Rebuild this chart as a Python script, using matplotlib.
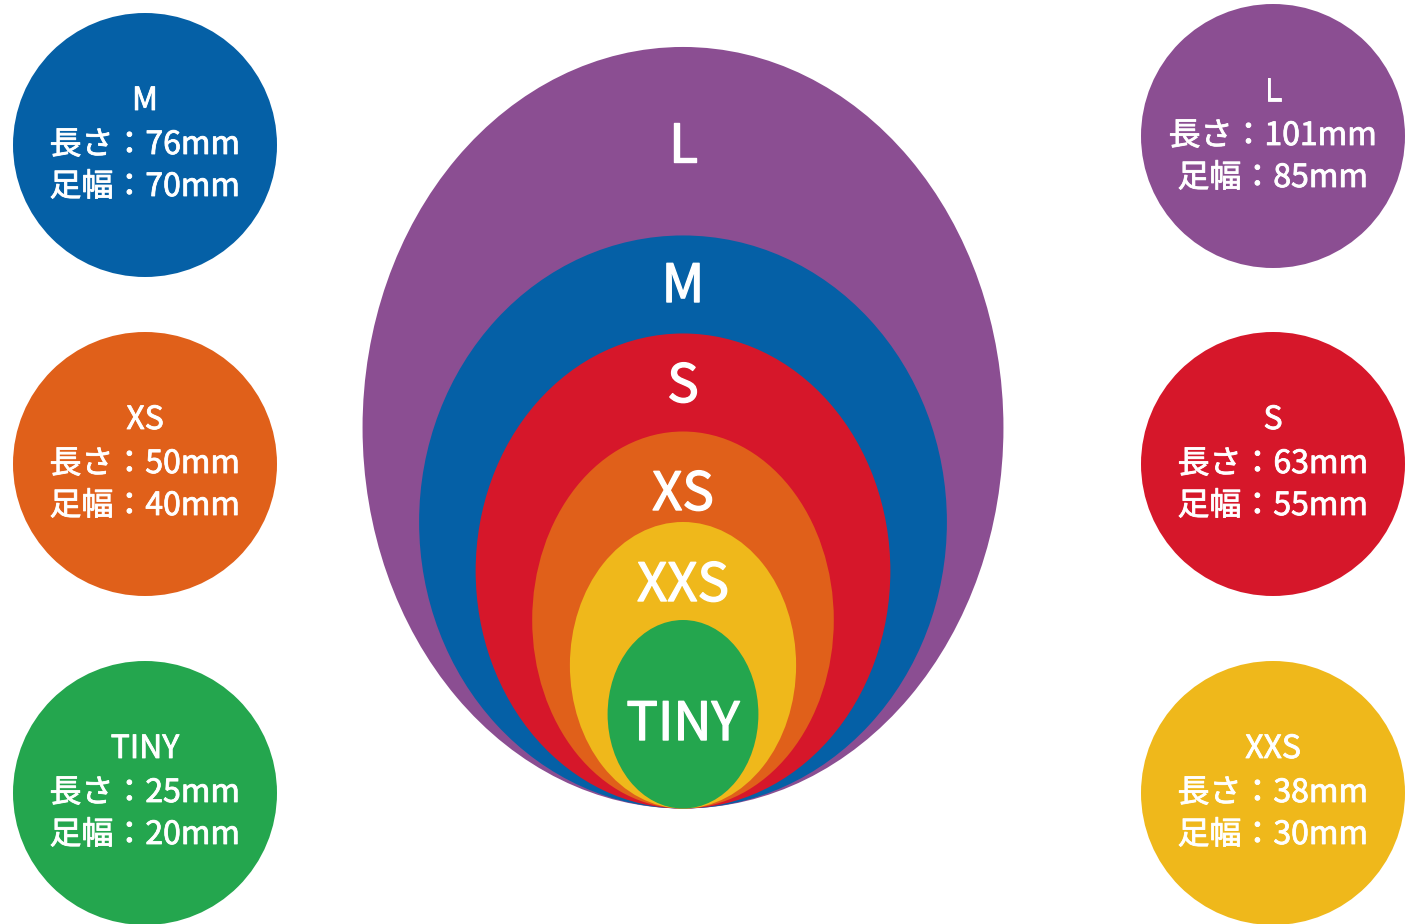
import matplotlib
matplotlib.use("Agg")
import matplotlib.pyplot as plt
import matplotlib.patheffects as pe
from matplotlib.patches import Ellipse, Circle

# ---- data ----
sizes = ["L", "M", "S", "XS", "XXS", "TINY"]
length_mm = [101, 76, 63, 50, 38, 25]
width_mm = [85, 70, 55, 40, 30, 20]
colors = ["#8B4E92", "#0560A6", "#D6172A", "#E0601A", "#EFB81B", "#24A64E"]

# circle legend layout (size name -> column/row)
left_col = ["M", "XS", "TINY"]
right_col = ["L", "S", "XXS"]

# ---- style / layout ----
W, H = 1413, 924
SCALE = 7.54            # px per mm
CX, BOTTOM = 683, 808.5  # common bottom point of nested ellipses
label_base = {"L": 162, "M": 302, "S": 402, "XS": 510, "XXS": 601, "TINY": 740}
FONT = ["Noto Sans CJK JP", "DejaVu Sans"]
WEIGHT = "regular"
big_fx = [pe.withStroke(linewidth=1.0, foreground="white")]
small_fx = [pe.withStroke(linewidth=0.6, foreground="white")]

fig = plt.figure(figsize=(W / 100, H / 100), dpi=100)
ax = fig.add_axes([0, 0, 1, 1])
ax.set_xlim(0, W)
ax.set_ylim(H, 0)
ax.axis("off")

# nested ellipses
for name, l, w, c in zip(sizes, length_mm, width_mm, colors):
    h = l * SCALE
    wd = w * SCALE
    ax.add_patch(Ellipse((CX, BOTTOM - h / 2), wd, h, facecolor=c, edgecolor="none"))
    ax.text(CX, label_base[name], name, color="white", fontsize=38, fontweight=WEIGHT,
            ha="center", va="baseline", family=FONT, path_effects=big_fx)

# info circles
R = 132
col_pos = {}
for i, n in enumerate(left_col):
    col_pos[n] = (145, [145, 464, 793][i])
for i, n in enumerate(right_col):
    col_pos[n] = (1273, [136, 464, 793][i])

for name, l, w, c in zip(sizes, length_mm, width_mm, colors):
    x, y = col_pos[name]
    ax.add_patch(Circle((x, y), R, facecolor=c, edgecolor="none"))
    lines = [name, f"長さ：{l}mm", f"足幅：{w}mm"]
    for off, t in zip([-35, 9, 51], lines):
        ax.text(x, y + off, t, color="white", fontsize=23, fontweight=WEIGHT,
                ha="center", va="baseline", family=FONT, path_effects=small_fx)

fig.savefig("out.png", dpi=100, facecolor="white")
